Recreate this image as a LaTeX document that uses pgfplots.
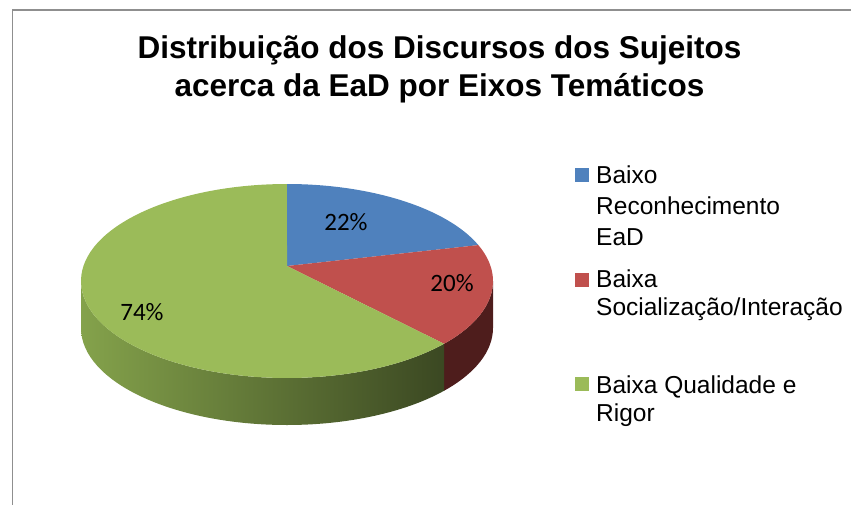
\documentclass[border=0pt]{standalone}
\usepackage{pgfplots}
\pgfplotsset{compat=1.18}
\usepackage{pgfplotstable}
\usepackage{fontspec}
\setmainfont{Liberation Sans}
\newfontfamily\carlito{Carlito}
\usetikzlibrary{calc}
\definecolor{cBlue}{HTML}{4F81BD}
\definecolor{cRed}{HTML}{C0504D}
\definecolor{cGreen}{HTML}{9BBB59}
\definecolor{cRedSide}{HTML}{4E1D1C}
\definecolor{cGreenL}{HTML}{84A24B}
\definecolor{cGreenM}{HTML}{5A7231}
\definecolor{cGreenD}{HTML}{3B4822}
\definecolor{frameGray}{HTML}{8F8F8F}

\pgfplotstableread{
label value
A 22
B 20
C 74
}\piedata

\begin{document}
\begin{tikzpicture}
\useasboundingbox (0,0) rectangle (851bp,505bp);
\pgfplotstablegetelem{0}{value}\of\piedata \let\va\pgfplotsretval
\pgfplotstablegetelem{1}{value}\of\piedata \let\vb\pgfplotsretval
\pgfplotstablegetelem{2}{value}\of\piedata \let\vc\pgfplotsretval
\pgfmathsetmacro\tot{\va+\vb+\vc}
\pgfmathsetmacro\aA{90}
\pgfmathsetmacro\aB{90-\va/\tot*360}
\pgfmathsetmacro\aC{\aB-\vb/\tot*360}
\pgfmathsetmacro\aD{\aC-\vc/\tot*360}
\pgfmathsetmacro\rs{min(\aB,0)}
\pgfmathsetmacro\re{max(\aC,-180)}
\pgfmathsetmacro\gs{min(\aC,0)}
\pgfmathsetmacro\ge{max(\aD,-180)}
\begin{axis}[at={(0,0)},anchor=south west,width=851bp,height=505bp,scale only axis,
  xmin=0,xmax=851,ymin=0,ymax=505,y dir=reverse,hide axis,clip=false]
% frame
\draw[frameGray, line width=1.8bp] (axis cs:12.5,540) -- (axis cs:12.5,10) -- (axis cs:880,10);
% title
\node[anchor=base, font=\bfseries\fontsize{31.5bp}{36bp}\selectfont] at (axis cs:439.5,59) {Distribuição dos Discursos dos Sujeitos};
\node[anchor=base, font=\bfseries\fontsize{31.5bp}{36bp}\selectfont] at (axis cs:439.5,96) {acerca da EaD por Eixos Temáticos};
% side walls
\fill[cRedSide] ($(axis cs:287,281)+(\rs:206bp and 97bp)$) arc[start angle=\rs,end angle=\re,x radius=206bp,y radius=97bp] -- ++(0,-47bp) arc[start angle=\re,end angle=\rs,x radius=206bp,y radius=97bp] -- cycle;
\shade[left color=cGreenL, middle color=cGreenM, right color=cGreenD] ($(axis cs:287,281)+(\gs:206bp and 97bp)$) arc[start angle=\gs,end angle=\ge,x radius=206bp,y radius=97bp] -- ++(0,-47bp) arc[start angle=\ge,end angle=\gs,x radius=206bp,y radius=97bp] -- cycle;
% top faces
\fill[cBlue] (axis cs:287,266) -- ($(axis cs:287,281)+(\aA:206bp and 97bp)$) arc[start angle=\aA,end angle=\aB,x radius=206bp,y radius=97bp] -- cycle;
\fill[cRed] (axis cs:287,266) -- ($(axis cs:287,281)+(\aB:206bp and 97bp)$) arc[start angle=\aB,end angle=\aC,x radius=206bp,y radius=97bp] -- cycle;
\fill[cGreen] (axis cs:287,266) -- ($(axis cs:287,281)+(\aC:206bp and 97bp)$) arc[start angle=\aC,end angle=\aD,x radius=206bp,y radius=97bp] -- cycle;
% data labels
\node[font=\carlito\fontsize{25bp}{30bp}\selectfont] at (axis cs:346,222) {\va\%};
\node[font=\carlito\fontsize{25bp}{30bp}\selectfont] at (axis cs:452,283) {\vb\%};
\node[font=\carlito\fontsize{25bp}{30bp}\selectfont] at (axis cs:142,312) {\vc\%};
% legend
\fill[cBlue] (axis cs:575,168) rectangle (axis cs:589,182);
\fill[cRed] (axis cs:575,273) rectangle (axis cs:589,287);
\fill[cGreen] (axis cs:575,377) rectangle (axis cs:589,391);
\begin{scope}[every node/.style={anchor=base west, inner xsep=0pt, font=\fontsize{24.5bp}{30bp}\selectfont}]
\node at (axis cs:596,183) {Baixo};
\node at (axis cs:596,214) {Reconhecimento};
\node at (axis cs:596,245) {EaD};
\node at (axis cs:596,287) {Baixa};
\node at (axis cs:596,315) {Socialização/Interação};
\node at (axis cs:596,393) {Baixa Qualidade e};
\node at (axis cs:596,421) {Rigor};
\end{scope}
\end{axis}
\end{tikzpicture}
\end{document}
